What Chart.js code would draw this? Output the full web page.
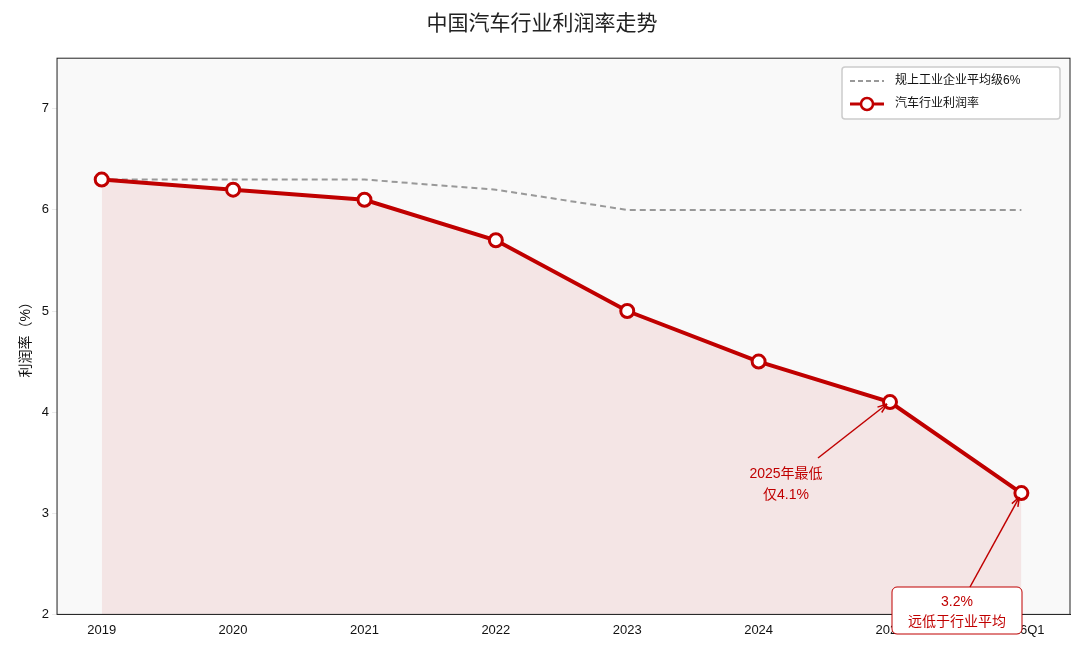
<!DOCTYPE html>
<html><head><meta charset="utf-8">
<script src="https://cdn.jsdelivr.net/npm/chart.js@4"></script>
<style>body{margin:0;background:#fff}#wrap{width:1080px;height:654px}</style>
</head><body><div id="wrap"><canvas id="c"></canvas></div>
<script>
const categories = ['2019', '2020', '2021', '2022', '2023', '2024', '2025', '2026Q1'];
const profitRate = [6.3, 6.2, 6.1, 5.7, 5.0, 4.5, 4.1, 3.2];
const industryAvg = [6.3, 6.3, 6.3, 6.2, 6.0, 6.0, 6.0, 6.0];
const yTicks = [2, 3, 4, 5, 6, 7];
const FONT = '"Liberation Sans", "Noto Sans CJK SC", sans-serif';
const RED = '#c00000';

const toPts = arr => arr.map((v, i) => ({x: i, y: v}));

const extras = {
  id: 'extras',
  beforeDatasetsDraw(chart) {
    const {ctx, chartArea: a} = chart;
    ctx.save();
    ctx.fillStyle = '#f9f9f9';
    ctx.fillRect(a.left, a.top, a.right - a.left, a.bottom - a.top);
    ctx.restore();
  },
  afterDraw(chart) {
    const {ctx, chartArea: a, scales: {x, y}} = chart;
    ctx.save();
    ctx.strokeStyle = '#222'; ctx.lineWidth = 1;
    ctx.strokeRect(a.left, a.top, a.right - a.left, a.bottom - a.top);

    function arrow(x1, y1, x2, y2) {
      ctx.strokeStyle = RED; ctx.fillStyle = RED; ctx.lineWidth = 1.5;
      ctx.beginPath(); ctx.moveTo(x1, y1); ctx.lineTo(x2, y2); ctx.stroke();
      const ang = Math.atan2(y2 - y1, x2 - x1);
      ctx.beginPath();
      ctx.moveTo(x2, y2);
      ctx.lineTo(x2 - 10 * Math.cos(ang - 0.35), y2 - 10 * Math.sin(ang - 0.35));
      ctx.moveTo(x2, y2);
      ctx.lineTo(x2 - 10 * Math.cos(ang + 0.35), y2 - 10 * Math.sin(ang + 0.35));
      ctx.stroke();
    }
    // 2025 note
    const px = x.getPixelForValue(6), py = y.getPixelForValue(4.1);
    arrow(818, 458, px - 3, py + 2);
    ctx.fillStyle = RED; ctx.font = '14px ' + FONT; ctx.textAlign = 'center';
    ctx.fillText('2025年最低', 786, 478);
    ctx.fillText('仅4.1%', 786, 499);
    // 2026Q1 note
    const qx = x.getPixelForValue(7), qy = y.getPixelForValue(3.2);
    ctx.fillStyle = '#fff'; ctx.strokeStyle = RED; ctx.lineWidth = 1;
    ctx.beginPath(); ctx.roundRect(892, 587, 130, 47, 5); ctx.fill(); ctx.stroke();
    arrow(970, 587, qx - 2, qy + 4);
    ctx.fillStyle = RED; ctx.textAlign = 'center';
    ctx.fillText('3.2%', 957, 606);
    ctx.fillText('远低于行业平均', 957, 626);

    // legend
    const lx = 842, ly = 67;
    ctx.fillStyle = 'rgba(255,255,255,0.9)'; ctx.strokeStyle = '#ccc';
    ctx.beginPath(); ctx.roundRect(lx, ly, 218, 52, 3); ctx.fill(); ctx.stroke();
    ctx.strokeStyle = '#999'; ctx.lineWidth = 2; ctx.setLineDash([5, 3]);
    ctx.beginPath(); ctx.moveTo(lx + 8, ly + 14); ctx.lineTo(lx + 42, ly + 14); ctx.stroke();
    ctx.setLineDash([]);
    ctx.strokeStyle = RED; ctx.lineWidth = 3;
    ctx.beginPath(); ctx.moveTo(lx + 8, ly + 37); ctx.lineTo(lx + 42, ly + 37); ctx.stroke();
    ctx.fillStyle = '#fff'; ctx.lineWidth = 2.5;
    ctx.beginPath(); ctx.arc(lx + 25, ly + 37, 6, 0, Math.PI * 2); ctx.fill(); ctx.stroke();
    ctx.fillStyle = '#111'; ctx.font = '12px ' + FONT; ctx.textAlign = 'left';
    ctx.textBaseline = 'middle';
    ctx.fillText('规上工业企业平均级6%', lx + 53, ly + 14);
    ctx.fillText('汽车行业利润率', lx + 53, ly + 37);
    ctx.restore();
  }
};

new Chart(document.getElementById('c'), {
  type: 'line',
  data: {
    datasets: [{
      label: '汽车行业利润率',
      data: toPts(profitRate),
      borderColor: RED,
      borderWidth: 4,
      pointRadius: 6.5,
      pointBorderWidth: 3,
      pointBackgroundColor: '#fff',
      pointBorderColor: RED,
      fill: 'origin',
      backgroundColor: 'rgba(192,0,0,0.08)',
      order: 1
    }, {
      label: '规上工业企业平均级6%',
      data: toPts(industryAvg),
      borderColor: '#999',
      borderWidth: 2,
      borderDash: [6, 4],
      pointRadius: 0,
      fill: false,
      order: 2
    }]
  },
  options: {
    responsive: true,
    maintainAspectRatio: false,
    animation: false,
    layout: {padding: {left: 14, right: 10, top: 0, bottom: 13}},
    plugins: {
      legend: {display: false},
      tooltip: {enabled: false},
      title: {display: true, text: '中国汽车行业利润率走势', color: '#222',
        font: {family: FONT, size: 21, weight: 'normal'}, padding: {top: 12, bottom: 21}}
    },
    scales: {
      x: {
        type: 'linear', min: -0.34, max: 7.37,
        afterBuildTicks: s => { s.ticks = categories.map((c, i) => ({value: i})); },
        ticks: {callback: v => categories[v], color: '#111', font: {family: FONT, size: 13}, autoSkip: false},
        grid: {display: false, drawTicks: true, tickLength: 5},
        border: {color: '#222'}
      },
      y: {
        min: 2, max: 7.5,
        afterBuildTicks: s => { s.ticks = yTicks.map(v => ({value: v})); },
        ticks: {color: '#111', font: {family: FONT, size: 13}},
        grid: {color: 'rgba(0,0,0,0.08)', tickLength: 5},
        border: {color: '#222', dash: [5, 4]},
        title: {display: true, text: '利润率（%）', color: '#111', font: {family: FONT, size: 14}}
      }
    }
  },
  plugins: [extras]
});
</script></body></html>
